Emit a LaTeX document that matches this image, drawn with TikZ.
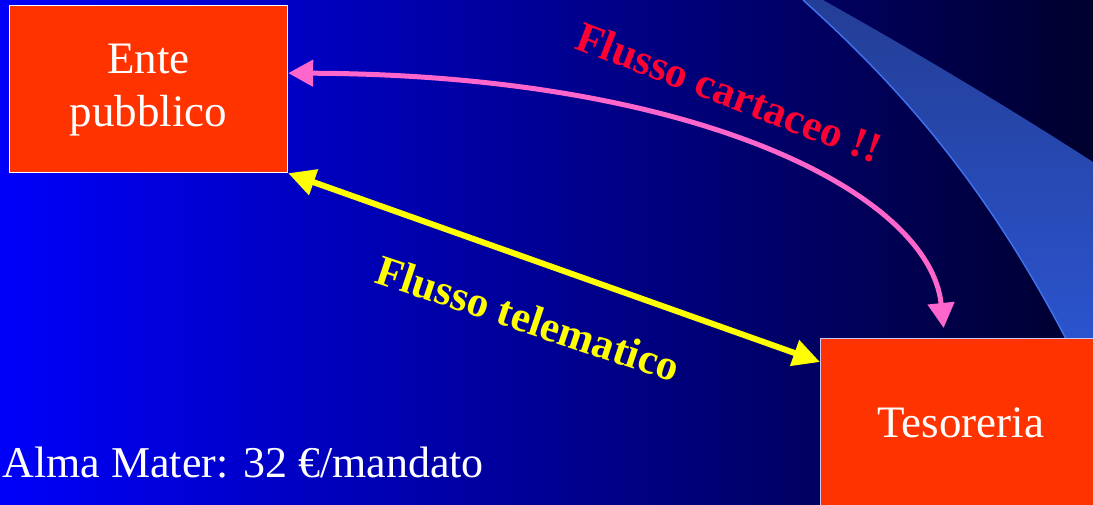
\documentclass[tikz,border=0pt]{standalone}
\usepackage{fontspec}
\setmainfont{Liberation Serif}
\usepackage{xcolor}
\usetikzlibrary{arrows.meta,positioning,calc}
\definecolor{bgleft}{RGB}{0,0,250}
\definecolor{bgmid}{RGB}{0,0,165}
\definecolor{bgright}{RGB}{0,0,45}
\definecolor{boxred}{RGB}{255,51,0}
\definecolor{flowpink}{RGB}{255,102,204}
\definecolor{flowyellow}{RGB}{255,255,0}
\definecolor{labelred}{RGB}{255,0,51}
\definecolor{swooshtop}{RGB}{35,62,150}
\definecolor{swooshbot}{RGB}{44,86,212}
\definecolor{swooshedge}{RGB}{65,115,240}

\begin{document}
\begin{tikzpicture}[
  x=0.5pt,y=-0.5pt,
  font=\fontsize{22.5pt}{26.5pt}\selectfont,
  box/.style={draw=white,line width=0.6pt,fill=boxred,text=white,
              align=center,inner sep=0pt},
  flowlabel/.style={font=\fontsize{21.5pt}{25pt}\selectfont\bfseries,
                    anchor=base west,inner sep=0pt},
  pinkflow/.style={draw=flowpink,line width=2.5pt,
                   {Triangle[length=12.5pt,width=13pt]}-{Triangle[length=12.5pt,width=13pt]}},
  yellowflow/.style={draw=flowyellow,line width=3pt,
                     {Triangle[length=13.5pt,width=13pt]}-{Triangle[length=13.5pt,width=13pt]}}]

\useasboundingbox (0,0) rectangle (1093,504);
\clip (0,0) rectangle (1093,504);

% ---- background ----
\shade[left color=bgleft,middle color=bgmid,right color=bgright]
  (0,0) rectangle (1093,504);
\shade[top color=swooshtop,bottom color=swooshbot]
  (803,0) -- (823,0) .. controls (900,43) and (1000,102) .. (1093,162)
  -- (1093,380) -- (1075,380) -- (1065,337)
  .. controls (985,185) and (903,90) .. (803,0) -- cycle;
\draw[swooshedge,line width=0.7pt]
  (803,0) .. controls (903,90) and (985,185) .. (1065,337) -- (1075,380);

% ---- boxes ----
\node[box,minimum width=139pt,minimum height=83.5pt,anchor=north west]
  (ente) at (9,5) {\raisebox{-2pt}{\begin{tabular}{@{}c@{}}Ente\\pubblico\end{tabular}}};
\node[box,draw={rgb,255:red,200;green,200;blue,255},minimum width=140pt,
      minimum height=84pt,anchor=north west] (teso) at (820,338) {Tesoreria};

% ---- flows ----
\draw[pinkflow] ([yshift=8pt]ente.east) .. controls (700,75) and (930,195)
  .. ([xshift=-8.5pt,yshift=5pt]teso.north);
\draw[yellowflow] (ente.south east) -- ([yshift=-12pt]teso.north west);

\node[flowlabel,text=labelred,rotate=-21] (cartaceo) at (573,48) {Flusso cartaceo !!};
\node[flowlabel,text=flowyellow,rotate=-18.5] (telematico) at (373,282) {Flusso telematico};

% ---- cost ----
\node[anchor=base west,inner sep=0pt,text=white,font=\fontsize{22pt}{26pt}\selectfont]
  (costo) at (2,477) {Alma Mater: 32 €/mandato};
\end{tikzpicture}
\end{document}
